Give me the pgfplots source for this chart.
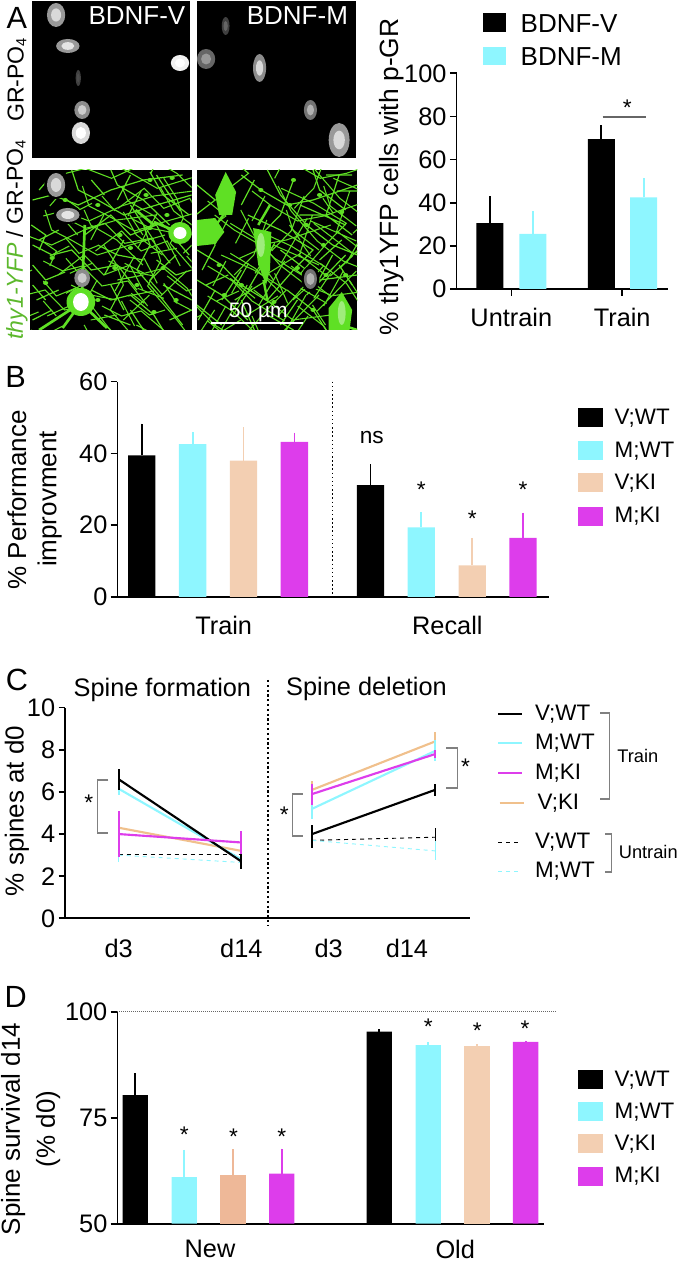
\documentclass[border=0pt]{standalone}
\usepackage{pgfplots}
\pgfplotsset{compat=1.18}
\usepackage{fontspec}
\setmainfont{Liberation Sans}
\newcommand{\ff}[1]{\fontsize{#1}{#1}\selectfont}
\definecolor{cy}{HTML}{8EF6FF}
\definecolor{pe}{HTML}{F3CFB2}
\definecolor{pd}{HTML}{EEB898}
\definecolor{ma}{HTML}{DD3DEB}
\definecolor{lp}{HTML}{F0C08C}
\definecolor{gr}{HTML}{5FE024}
\definecolor{gk}{HTML}{5CB82C}
\pgfplotsset{
  base/.style={scale only axis, axis x line*=bottom, axis y line*=left, axis line style={line width=1.3pt,-},
    tick style={line width=1.2pt,black}, tick align=outside, major tick length=5pt,
    tick label style={font=\ff{19}}, /pgf/number format/assume math mode=true, clip=false,
    yticklabel style={xshift=1pt}, ytick pos=left, xtick pos=bottom},
  bb/.style={fill=#1,draw=none,ybar,bar shift=0pt,error bars/.cd,y dir=plus,y explicit,error mark=none,
    error bar style={draw=#1,line width=1.3pt}},
  ll/.style={color=#1,line width=1.6pt,mark=none,error bars/.cd,y dir=both,y explicit,error mark=none,
    error bar style={draw=#1,line width=1.3pt,solid}},
  dl/.style={color=#1,line width=0.7pt,dashed,mark=none,error bars/.cd,y dir=both,y explicit,error mark=none,
    error bar style={draw=#1,line width=1pt,solid}},
}
\newcommand{\netL}{
 (25,200)--(40,195)--(60,205)--(85,190)--(110,180)--(140,175)
 (55,170)--(60,190)--(75,200)--(95,215)--(120,205)--(147,195)
 (85,170)--(90,185)--(110,200)--(130,225)
 (115,172)--(125,195)--(145,215)
 (65,235)--(85,215)--(100,235)--(120,225)--(130,250)
 (100,205)--(110,225)--(115,245)--(105,270)--(125,300)--(140,325)
 (25,245)--(40,255)--(55,250)--(70,270)--(90,265)--(105,290)
 (25,265)--(35,280)--(50,272)
 (75,245)--(90,255)--(110,260)
 (70,290)--(85,300)--(100,295)--(118,315)--(125,330)
 (120,260)--(135,275)--(147,270)
 (125,285)--(147,300)
 (28,300)--(45,290)
 (80,315)--(100,325)
 (130,320)--(147,310)
 (24,225)--(35,235)--(30,250)
 (95,240)--(80,275)
 (130,195)--(120,175)
 (40,175)--(30,190)
 (100,175)--(90,200)
 (115,280)--(135,255)
 (85,285)--(95,310)
 (25,320)--(40,310)
 (70,180)--(80,195)
 (45,230)--(30,240)
 (90,280)--(110,275)
 (75,320)--(85,330)
 (135,240)--(145,255)
 (35,300)--(25,285)
 (100,310)--(110,330)}
\newcommand{\netR}{
 (151,185)--(165,200)--(150,215)
 (185,175)--(200,190)--(220,205)--(240,200)--(274,185)
 (205,170)--(215,195)--(235,225)--(255,245)--(274,255)
 (240,170)--(245,190)--(265,210)
 (190,215)--(215,230)--(240,250)--(225,270)--(205,300)
 (151,250)--(170,265)--(185,285)--(210,305)
 (151,280)--(170,295)--(190,320)
 (225,180)--(215,215)--(200,235)
 (260,175)--(250,215)--(270,235)
 (215,250)--(245,280)--(274,275)
 (220,290)--(240,310)--(250,330)
 (151,305)--(170,325)
 (170,300)--(185,270)
 (255,255)--(240,290)
 (230,205)--(265,225)
 (165,245)--(155,270)
 (260,265)--(270,285)
 (185,300)--(195,330)
 (215,325)--(228,300)
 (152,320)--(165,290)
 (195,180)--(185,205)
 (250,175)--(270,175)
 (210,245)--(190,290)
 (230,240)--(222,225)
 (180,300)--(205,280)
 (235,295)--(265,255)
 (262,240)--(245,260)
 (158,285)--(175,275)
 (205,315)--(225,330)}
\begin{document}
\begin{tikzpicture}
\path[use as bounding box] (0,0) rectangle (507.75pt,948pt);

% ---- Panel A chart
\begin{axis}[base, at={(350*0.97826pt,975*0.75pt)}, anchor=south west,
  width=162*0.97826pt, height=215.7*0.75pt, xmin=350, xmax=512, ymin=0, ymax=100,
  ytick={0,20,40,60,80,100}, xtick={392,477}, xticklabels={Untrain,Train},
  ybar, bar width=20.2pt, xticklabel style={yshift=-5.5pt}]
\addplot[bb=black] coordinates {(375.5,30.5) +- (0,12.5) (461,69.5) +- (0,6.5)};
\addplot[bb=cy] coordinates {(408.5,25.5) +- (0,10.5) (493.5,42.5) +- (0,9)};
\end{axis}

% ---- Panel B chart
\begin{axis}[base, at={(90*0.97826pt,667*0.75pt)}, anchor=south west,
  width=331*0.97826pt, height=215.3*0.75pt, xmin=90, xmax=421, ymin=0, ymax=60,
  ytick={0,20,40,60}, xtick={171.5,343}, xticklabels={Train,Recall}, x tick style={draw=none},
  ybar, bar width=20.5pt, xticklabel style={yshift=-5.5pt}]
\addplot[bb=black] coordinates {(108.7,39.5) +- (0,8.8) (284,31.2) +- (0,5.8)};
\addplot[bb=cy] coordinates {(147.7,42.6) +- (0,3.4) (323,19.4) +- (0,4.3)};
\addplot[bb=pe] coordinates {(186.7,38) +- (0,9.3) (362,8.8) +- (0,7.7)};
\addplot[bb=ma] coordinates {(225.7,43.2) +- (0,2.6) (401,16.5) +- (0,7)};
\end{axis}

% ---- Panel C chart
\begin{axis}[base, at={(50*0.97826pt,345.7*0.75pt)}, anchor=south west,
  width=310.7*0.97826pt, height=210.6*0.75pt, xmin=50, xmax=360.7, ymin=0, ymax=10,
  ytick={0,2,4,6,8,10}, xtick={91,185,252,312}, xticklabels={d3,d14,d3,d14}, x tick style={draw=none},
  xticklabel style={yshift=-7pt}]
\addplot[dl=black] coordinates {(91,3.05) +- (0,0.25) (185,3.05) +- (0,0.3)};
\addplot[dl=cy] coordinates {(91,3.0) +- (0,0.35) (185,2.65) +- (0,0.25)};
\addplot[ll=lp] coordinates {(91,4.3) +- (0,0.5) (185,3.2) +- (0,0.3)};
\addplot[ll=cy] coordinates {(91,6.15) +- (0,0.3) (185,2.8) +- (0,0.35)};
\addplot[ll=black] coordinates {(91,6.6) +- (0,0.5) (185,2.7) +- (0,0.35)};
\addplot[ll=ma] coordinates {(91,4.0) +- (0,1.1) (185,3.6) +- (0,0.55)};
\addplot[dl=black] coordinates {(239.3,3.7) +- (0,0.35) (333.7,3.85) +- (0,0.45)};
\addplot[dl=cy] coordinates {(239.3,3.7) +- (0,0.1) (333.7,3.2) +- (0,0.45)};
\addplot[ll=lp] coordinates {(239.3,6.1) +- (0,0.4) (333.7,8.4) +- (0,0.45)};
\addplot[ll=cy] coordinates {(239.3,5.2) +- (0,0.5) (333.7,7.95) +- (0,0.5)};
\addplot[ll=ma] coordinates {(239.3,5.9) +- (0,0.5) (333.7,7.8) +- (0,0.2)};
\addplot[ll=black] coordinates {(239.3,4.0) +- (0,0.45) (333.7,6.1) +- (0,0.3)};
\end{axis}

% ---- Panel D chart
\begin{axis}[base, clip=true, at={(90*0.97826pt,40.3*0.75pt)}, anchor=south west,
  width=327*0.97826pt, height=212*0.75pt, xmin=90, xmax=417, ymin=50, ymax=100,
  ytick={50,75,100}, xtick={161,349}, xticklabels={New,Old}, x tick style={draw=none},
  ybar, bar width=19pt, xticklabel style={yshift=-4pt}]
\addplot[bb=black] coordinates {(103.7,80.3) +- (0,5.2) (290.7,95.3) +- (0,0.6)};
\addplot[bb=cy] coordinates {(141.3,61) +- (0,6.4) (328.3,92.1) +- (0,0.7)};
\addplot[bb=pd] coordinates {(178.7,61.6) +- (0,6)};
\addplot[bb=pe] coordinates {(365.7,92) +- (0,0.3)};
\addplot[bb=ma] coordinates {(216,61.8) +- (0,5.9) (403,92.9) +- (0,0.3)};
\end{axis}

\begin{scope}[shift={(0pt,948pt)},x=0.97826pt,y=-0.75pt]
% ---- Micrographs
\fill[black] (24.3,1.5) rectangle (146,158);
\fill[black] (151,1.5) rectangle (273,158);
\fill[black] (23,170) rectangle (147,330);
\fill[black] (151,170) rectangle (274,330);

% cells, top left
\foreach \x/\y/\a/\b/\c/\d in {43/15/7/12/60/85, 52/46/9/7/60/90, 63/110/6/9/55/80, 62/133/7/11/85/100, 138/63/7/8/95/100, 60/78/2/8/25/30}{
  \fill[white!\c!black] (\x,\y) ellipse ({\a} and {\b});
  \fill[white!\d!black] (\x,\y) ellipse ({0.55*\a} and {0.55*\b});
}
% cells, top right
\foreach \x/\y/\a/\b/\c/\d in {158/59/7/10/40/60, 199/68/5/14/55/85, 238/110/5/10/45/70, 260/140/8/17/60/85, 173/26/3/9/25/40}{
  \fill[white!\c!black] (\x,\y) ellipse ({\a} and {\b});
  \fill[white!\d!black] (\x,\y) ellipse ({0.55*\a} and {0.55*\b});
}

% green processes
\begin{scope}
\clip (23,170) rectangle (147,330);
\draw[gr,line width=0.9pt] \netL;
\draw[gr,line width=0.8pt,shift={(8pt,-12pt)}] \netL;
\draw[gr,line width=0.8pt,shift={(-20pt,-30pt)}] \netL;
\draw[gr,line width=0.8pt,shift={(25pt,20pt)}] \netL;
\draw[gr,line width=2pt] (63,290)--(65,225) (62,303)--(30,330) (62,303)--(48,328) (62,303)--(82,328) (138,233)--(118,222) (104,210)--(118,225);
\foreach \x/\y in {50/200, 75/205, 112/195, 128/215, 92/235, 115/228, 40/258, 88/268, 105/285, 125/268, 135/300, 35/283, 100/248, 75/300, 118/312, 115/180, 132/178}{
  \fill[gr] (\x,\y) circle (2);
}
\fill[black] (43,185) ellipse (9 and 14);
\fill[black] (52,215) ellipse (11 and 9);
\fill[white!60!black] (43,185) ellipse (7 and 12); \fill[white!85!black] (43,185) ellipse (4 and 7);
\fill[white!60!black] (52,215) ellipse (9 and 7); \fill[white!90!black] (52,215) ellipse (5 and 4);
\fill[white!55!black] (63,278) ellipse (6 and 9); \fill[white!80!black] (63,278) ellipse (3.5 and 5);
\fill[gr] (138,233) ellipse (9 and 11); \fill[white] (138,233) ellipse (5 and 6);
\fill[gr] (62,302) ellipse (11 and 14); \fill[white] (62,302) ellipse (6 and 9);
\end{scope}

\begin{scope}
\clip (151,170) rectangle (274,330);
\draw[gr,line width=0.9pt] \netR;
\draw[gr,line width=0.8pt,shift={(8pt,-12pt)}] \netR;
\draw[gr,line width=0.8pt,shift={(-20pt,-30pt)}] \netR;
\draw[gr,line width=0.8pt,shift={(25pt,20pt)}] \netR;
\draw[gr,line width=1.8pt] (174,210)--(160,235) (207,205)--(198,225) (202,280)--(205,300) (262,295)--(255,330) (262,325)--(274,330);
\foreach \x/\y in {200/190, 222/205, 245/195, 262/212, 235/225, 248/245, 228/268, 168/265, 185/285, 210/302, 172/295, 240/310, 265/275, 225/180, 250/275}{
  \fill[gr] (\x,\y) circle (2);
}
\fill[gr] (173,172)--(181,192)--(178,215)--(168,215)--(165,195)--cycle;
\fill[gr] (151,220)--(165,218)--(172,232)--(165,244)--(151,246)--cycle;
\fill[gr] (194,228)--(208,232)--(207,270)--(204,285)--(198,265)--cycle;
\fill[white!40!gr] (200,245) ellipse (3 and 12);
\fill[gr] (262,292)--(270,310)--(268,330)--(252,330)--(252,308)--cycle;
\fill[white!40!gr] (262,313) ellipse (3 and 12);
\fill[black] (238,279) ellipse (7 and 13);
\fill[white!45!black] (238,279) ellipse (5 and 10); \fill[white!70!black] (238,279) ellipse (3 and 6);
\end{scope}

\fill[white] (162,322) rectangle (232,324);
\node[white,font=\ff{15.7}] at (198,312) {50 µm};
\node[white,font=\ff{19.5}] at (105,16) {BDNF-V};
\node[white,font=\ff{19.5}] at (228,16) {BDNF-M};
\node[font=\ff{17.3},rotate=90] at (13,80) {GR-PO\raisebox{-2pt}{\ff{11}4}};
\node[font=\ff{17.3},rotate=90] at (13,240) {\textcolor{gk}{\itshape thy1-YFP} / GR-PO\raisebox{-2pt}{\ff{11}4}};

% ---- Panel letters
\node[font=\ff{23}] at (13,18) {A};
\node[font=\ff{23}] at (12,377) {B};
\node[font=\ff{23}] at (13,680) {C};
\node[font=\ff{23}] at (12,997) {D};

% ---- y labels
\node[font=\ff{19.8},rotate=90] at (300,177) {\% thy1YFP cells with p-GR};
\node[font=\ff{19.5},rotate=90] at (13,500) {\% Performance};
\node[font=\ff{19.5},rotate=90] at (38,499) {improvment};
\node[font=\ff{19.5},rotate=90] at (13,811) {\% spines at d0};
\node[font=\ff{19.5},rotate=90] at (10,1129) {Spine survival d14};
\node[font=\ff{19.5},rotate=90] at (37,1129) {(\% d0)};

% ---- Panel A legend, significance
\fill[black] (370,13) rectangle (388,32);
\fill[cy] (370,47) rectangle (388,65);
\node[anchor=west,inner sep=0,font=\ff{19.5}] at (399,24) {BDNF-V};
\node[anchor=west,inner sep=0,font=\ff{19.5}] at (399,57) {BDNF-M};
\draw[black!60,line width=1pt] (462,117)--(495,117);
\node[font=\ff{17}] at (481,108) {*};

% ---- Panel B legend, marks
\draw[dotted,line width=1.1pt] (255,381.7)--(255,598);
\foreach \y/\c/\t in {418/black/V;WT, 451/cy/M;WT, 483/pe/V;KI, 516.5/ma/M;KI}{
  \fill[\c] (443,\y-9.5) rectangle (462,\y+9.5);
  \node[anchor=west,inner sep=0,font=\ff{16.8}] at (471,\y) {\t};
}
\node[font=\ff{17}] at (285,438) {ns};
\foreach \x/\y in {323/490, 362/519, 401/490}{
  \node[font=\ff{17}] at (\x,\y) {*};
}

% ---- Panel C headings, legend, brackets
\draw[dotted,line width=1.6pt] (205.7,680)--(205.7,925);
\node[font=\ff{19}] at (124.5,690) {Spine formation};
\node[font=\ff{19}] at (281,689) {Spine deletion};
\draw[black,line width=1.3pt] (382,714)--(400,714);
\draw[cy,line width=1.6pt] (382,743)--(400,743);
\draw[ma,line width=1.6pt] (382,773)--(400,773);
\draw[lp,line width=1.4pt] (383,803)--(402,803);
\draw[black,line width=0.7pt,dashed] (382,842)--(400,842);
\draw[cy,line width=0.7pt,dashed] (382,871)--(400,871);
\node[anchor=west,inner sep=0,font=\ff{16.8}] at (410,714) {V;WT};
\node[anchor=west,inner sep=0,font=\ff{16.8}] at (410,743) {M;WT};
\node[anchor=west,inner sep=0,font=\ff{16.8}] at (410,773) {M;KI};
\node[anchor=west,inner sep=0,font=\ff{16.8}] at (412,803) {V;KI};
\node[anchor=west,inner sep=0,font=\ff{16.8}] at (410,842) {V;WT};
\node[anchor=west,inner sep=0,font=\ff{16.8}] at (410,871) {M;WT};
\draw[black!50,line width=0.8pt] (460,713)--(467,713)--(467,799)--(460,799);
\draw[black!50,line width=0.8pt] (464,834)--(469,834)--(469,872)--(464,872);
\node[font=\ff{13.7}] at (489,756) {Train};
\node[font=\ff{13.7}] at (497,852) {Untrain};
\draw[black!50,line width=0.8pt] (83,780)--(75,780)--(75,833)--(83,833);
\draw[black!50,line width=0.8pt] (232,794)--(224,794)--(224,836)--(232,836);
\draw[black!50,line width=0.8pt] (342,748)--(351,748)--(351,788)--(342,788);
\node[font=\ff{17}] at (68,803) {*};
\node[font=\ff{17}] at (218,815) {*};
\node[font=\ff{17}] at (357,767) {*};

% ---- Panel D legend, marks
\draw[black!60,line width=0.5pt,densely dotted] (90,1011.7)--(427,1011.7);
\foreach \y/\c/\t in {1080/black/V;WT, 1112/cy/M;WT, 1144/pe/V;KI, 1176.5/ma/M;KI}{
  \fill[\c] (443,\y-9.5) rectangle (462,\y+9.5);
  \node[anchor=west,inner sep=0,font=\ff{16.8}] at (471,\y) {\t};
}
\foreach \x/\y in {141.3/1135, 179/1137, 216/1137, 328.3/1027, 366/1031, 402.5/1029}{
  \node[font=\ff{17}] at (\x,\y) {*};
}
\end{scope}
\end{tikzpicture}
\end{document}
